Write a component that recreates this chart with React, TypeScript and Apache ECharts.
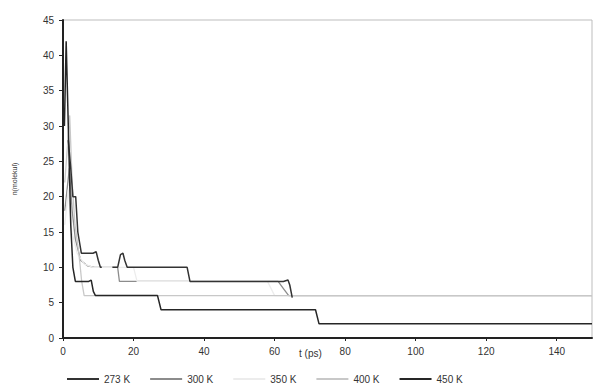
import React, { useEffect, useRef } from "react";
import * as echarts from "echarts";

const seriesNames = ["273 K", "300 K", "350 K", "400 K", "450 K"];
const seriesColors = ["#333333", "#8c8c8c", "#ececec", "#c8c8c8", "#262626"];

const data273: (number | string)[][] = [
  [1.5, 28], [2.2, 24], [2.8, 20], [3.6, 20], [4.2, 15], [5.2, 12], [8.5, 12], [9.4, 12.2],
  [10, 11], [10.6, 10], [11, 10], [11.3, "-"], [14, 10], [15.5, 10], [16.3, 11.8], [17, 12],
  [17.5, 11], [18.2, 10], [35.2, 10], [36, 8], [62.5, 8], [63.8, 8.2], [64.3, 7.5], [65, 5.7],
];
const data300: number[][] = [
  [0.5, 18], [1.8, 24], [2.6, 18], [3.5, 14], [5, 11], [7, 10.2], [9, 10], [15.5, 10],
  [16, 8], [61, 8], [62.5, 7], [64, 6], [150, 6],
];
const data350: number[][] = [
  [0.5, 16], [1.5, 21], [2.5, 15], [4, 12], [6, 10.5], [8.5, 10], [20, 10], [21, 8],
  [58, 8], [60, 6], [150, 6],
];
const data400: number[][] = [
  [0.5, 22], [1.9, 31.5], [2.6, 22], [3.4, 16], [4.5, 12], [5.3, 8], [6, 6], [150, 6],
];
const data450: number[][] = [
  [0.4, 30], [0.9, 42], [1.6, 28], [2.2, 16], [2.8, 10], [3.5, 8], [7.3, 8], [8, 8.2],
  [8.6, 6.6], [9.2, 6], [26.8, 6], [27.8, 4], [71.6, 4], [72.6, 2], [150, 2],
];

const yTicks = { min: 0, max: 45, interval: 5 };
const xTicks = { min: 0, max: 150, interval: 20 };

export default function App() {
  const ref = useRef<HTMLDivElement>(null);
  useEffect(() => {
    if (!ref.current) return;
    const chart = echarts.init(ref.current, undefined, { renderer: "svg" });
    const allData = [data273, data300, data350, data400, data450];
    chart.setOption({
      animation: false,
      backgroundColor: "#ffffff",
      textStyle: { fontFamily: "Liberation Sans, Arial, sans-serif" },
      grid: {
        left: 63, right: 10, top: 20, bottom: 52,
        show: true, borderColor: "#bdbdbd", borderWidth: 1,
      },
      xAxis: {
        type: "value",
        min: xTicks.min, max: xTicks.max, interval: xTicks.interval,
        axisLine: { show: true, lineStyle: { color: "#222", width: 2 } },
        axisTick: { show: true, length: 3, lineStyle: { color: "#222" } },
        axisLabel: { color: "#333", fontSize: 10, margin: 8, showMaxLabel: false },
        splitLine: { show: false },
      },
      yAxis: {
        type: "value",
        min: yTicks.min, max: yTicks.max, interval: yTicks.interval,
        name: "n(molekul)",
        nameLocation: "middle",
        nameRotate: 90,
        nameGap: 45,
        nameTextStyle: { fontSize: 7, color: "#333" },
        axisLine: { show: true, lineStyle: { color: "#222", width: 2 } },
        axisTick: { show: true, length: 4, lineStyle: { color: "#222" } },
        axisLabel: { color: "#333", fontSize: 10, margin: 9 },
        splitLine: { show: false },
      },
      legend: {
        left: 62, top: 369,
        icon: "rect",
        itemWidth: 32, itemHeight: 2, itemGap: 20,
        textStyle: { fontSize: 10, color: "#333" },
        data: seriesNames,
      },
      graphic: [
        {
          type: "text", left: 299, top: 348,
          style: { text: "t (ps)", fontSize: 10, fill: "#333", fontFamily: "Liberation Sans, Arial, sans-serif" },
        },
      ],
      series: seriesNames.map((name, i) => ({
        name,
        type: "line",
        data: allData[i],
        showSymbol: false,
        symbol: "none",
        connectNulls: false,
        z: i === 0 || i === 4 ? 5 : 2,
        lineStyle: { color: seriesColors[i], width: i === 0 || i === 4 ? 1.5 : 1.3 },
        itemStyle: { color: seriesColors[i] },
      })),
    });
    return () => chart.dispose();
  }, []);
  return (
    <div
      ref={ref}
      style={{ position: "fixed", left: 0, top: 0, width: 602, height: 390 }}
    />
  );
}
